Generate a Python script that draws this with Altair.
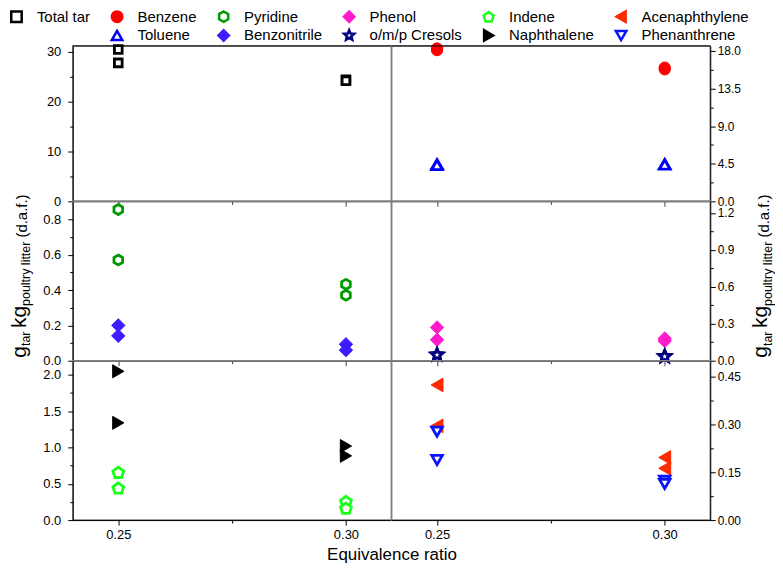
import json
import math
import altair as alt
import pandas as pd

FONT = "Liberation Sans"

# ---------------- data ----------------
ratio = [0.25, 0.25, 0.30, 0.30]

total_tar = [30.5, 27.8, 24.4, 24.2]
benzene = [18.3, 18.1, 16.0, 15.8]
toluene = [4.45, 4.35, 4.45, 4.40]
pyridine = [0.857, 0.571, 0.433, 0.371]
benzonitrile = [0.200, 0.141, 0.093, 0.060]
phenol = [0.270, 0.170, 0.180, 0.160]
cresols = [0.049, 0.047, 0.036, 0.034]
naphthalene = [2.05, 1.34, 1.02, 0.885]
indene = [0.650, 0.435, 0.250, 0.157]
acenaphthylene = [0.423, 0.295, 0.196, 0.162]
phenanthrene = [0.277, 0.188, 0.123, 0.113]

# legend entries, row-major in 6 columns (" " is an empty slot)
legend_order = ["Total tar", "Benzene", "Pyridine", "Phenol", "Indene", "Acenaphthylene",
                " ", "Toluene", "Benzonitrile", "o/m/p Cresols", "Naphthalene", "Phenanthrene"]


# ---------------- styles ----------------
def poly(n, r_in=None):
    k = n * (2 if r_in else 1)
    pts = []
    for i in range(k):
        a = math.radians(-90 + 360.0 * i / k)
        r = 1.0 if (r_in is None or i % 2 == 0) else r_in
        pts.append(f"{r * math.cos(a):.3f},{r * math.sin(a):.3f}")
    return "M" + "L".join(pts) + "Z"


HEX = poly(6)
PENT = poly(5)
STAR = poly(5, 0.45)

shape_range = ["square", "circle", HEX, "diamond", PENT, "triangle-left",
               "circle", "triangle-up", "diamond", STAR, "triangle-right", "triangle-down"]
stroke_range = ["#000000", "#ff0000", "#009a00", "#ff1acc", "#1aff1a", "#ff2a00",
                "transparent", "#0000ff", "#3d1cff", "#000080", "#000000", "#0a14ff"]
fill_range = ["white", "#ff0000", "white", "#ff1acc", "white", "#ff2a00",
              "transparent", "white", "#3d1cff", "white", "#000000", "white"]

mark_style = {
    "Total tar": (60, 2.8), "Benzene": (128, 1), "Toluene": (112, 2.8),
    "Pyridine": (100, 2.8), "Benzonitrile": (180, 1), "Phenol": (180, 1),
    "o/m/p Cresols": (150, 2.8), "Indene": (130, 2.8), "Naphthalene": (170, 1),
    "Acenaphthylene": (190, 1), "Phenanthrene": (112, 2.8),
}

leg = alt.Legend(title=None, orient="none", legendX=-64, legendY=-37, columns=6,
                 direction="horizontal", symbolSize=110, symbolStrokeWidth=2.5,
                 symbolOpacity=1, labelFont=FONT, labelFontSize=15, labelColor="black",
                 labelOffset=13, columnPadding=16, rowPadding=-2, padding=0, labelLimit=0)

shape_scale = alt.Scale(domain=legend_order, range=shape_range)
stroke_scale = alt.Scale(domain=legend_order, range=stroke_range)
fill_scale = alt.Scale(domain=legend_order, range=fill_range)
x_scale = alt.Scale(domain=[0.24, 0.31], nice=False, zero=False)

W = 320


def ticks_cond(minors, major=5, minor=3):
    return {"condition": {"test": f"indexof({json.dumps(minors)}, datum.value) >= 0",
                          "value": minor}, "value": major}


def y_axis(orient, majors, minors, fmt):
    return alt.Axis(orient=orient, values=sorted(majors + minors), format=fmt,
                    labelExpr=f"indexof({json.dumps(minors)}, datum.value) >= 0 ? '' : datum.label",
                    tickSize=ticks_cond(minors, 5, 3), title=None, grid=False,
                    labelFlush=False, labelOverlap=False,
                    labelFontSize=13 if orient == "left" else 12,
                    labelPadding=7 if orient == "left" else 2,
                    domainColor="black", tickColor="black")


x_minor = [0.275]


def x_axis(bottom_row, title=None):
    kw = dict(values=[0.25, 0.275, 0.30], tickSize=ticks_cond(x_minor, 5, 3), grid=False,
              labelFlush=False, labelOverlap=False)
    if bottom_row:
        kw.update(format=".2f", labelPadding=3, domainColor="black", tickColor="black",
                  labelExpr=f"indexof({json.dumps(x_minor)}, datum.value) >= 0 ? '' : datum.label")
    else:
        kw.update(labels=False, domainColor="#404040", tickColor="#404040")
    if title:
        kw.update(title=title, titleX=W, titleY=40, titleAlign="center",
                  titleBaseline="alphabetic")
    else:
        kw.update(title=None)
    return alt.Axis(**kw)


def points(name, vals, ydom, yax, xax):
    size, sw = mark_style[name]
    df = pd.DataFrame({"ratio": ratio, "value": vals, "series": name})
    return alt.Chart(df).mark_point(size=size, strokeWidth=sw, opacity=1).encode(
        x=alt.X("ratio:Q", scale=x_scale, axis=xax),
        y=alt.Y("value:Q", scale=alt.Scale(domain=ydom, nice=False, zero=False), axis=yax),
        shape=alt.Shape("series:N", scale=shape_scale, legend=leg),
        stroke=alt.Stroke("series:N", scale=stroke_scale, legend=leg),
        fill=alt.Fill("series:N", scale=fill_scale, legend=leg),
    )


def top_rule():
    return alt.Chart(pd.DataFrame({"a": [0]})).mark_rule(color="black", strokeWidth=1).encode(
        x=alt.value(0), x2=alt.value(W), y=alt.value(0))


def y_title(bx):
    # g_tar kg_poultry litter (d.a.f.) written bottom-to-top with subscripts
    segs = [("g", 21, bx, 157), ("tar", 12.5, bx + 4.5, 145.3),
            ("kg", 21, bx, 127.2), ("poultry litter", 12.5, bx + 4.5, 105.0),
            ("(d.a.f.)", 15, bx + 1.5, 36.4)]
    out = []
    for txt, fs, x, y in segs:
        out.append(alt.Chart(pd.DataFrame({"t": [txt]})).mark_text(
            angle=270, align="left", baseline="alphabetic", font=FONT, fontSize=fs,
            color="black").encode(x=alt.value(x), y=alt.value(y), text="t:N"))
    return out


def panel(series, ydom, yax, xax, height, extra=()):
    layers = [points(n, v, ydom, yax, xax) for n, v in series]
    return alt.layer(*layers, *extra).properties(width=W, height=height)


xa_up = x_axis(False)

p11 = panel([("Total tar", total_tar)], [0, 31.2],
            y_axis("left", [0, 10, 20, 30], [5, 15, 25], "d"), xa_up, 156, [top_rule()])
p12 = panel([("Benzene", benzene), ("Toluene", toluene)], [0, 18.6],
            y_axis("right", [0, 4.5, 9, 13.5, 18], [2.25, 6.75, 11.25, 15.75], ".1f"),
            xa_up, 156, [top_rule()])
p21 = panel([("Pyridine", pyridine), ("Benzonitrile", benzonitrile)], [0, 0.9035],
            y_axis("left", [0, 0.2, 0.4, 0.6, 0.8], [0.1, 0.3, 0.5, 0.7], ".1f"),
            xa_up, 160, y_title(-47.2))
p22 = panel([("Phenol", phenol), ("o/m/p Cresols", cresols)], [0, 1.294],
            y_axis("right", [0, 0.3, 0.6, 0.9, 1.2], [0.15, 0.45, 0.75, 1.05], ".1f"),
            xa_up, 160, y_title(W + 57))
p31 = panel([("Naphthalene", naphthalene), ("Indene", indene)], [0, 2.196],
            y_axis("left", [0, 0.5, 1.0, 1.5, 2.0], [0.25, 0.75, 1.25, 1.75], ".1f"),
            x_axis(True, "Equivalence ratio"), 160)
p32 = panel([("Acenaphthylene", acenaphthylene), ("Phenanthrene", phenanthrene)], [0, 0.499],
            y_axis("right", [0, 0.15, 0.30, 0.45], [0.075, 0.225, 0.375], ".2f"),
            x_axis(True), 160)

chart = alt.concat(p11, p12, p21, p22, p31, p32, columns=2, spacing=0,
                   bounds="flush").resolve_scale(
    x="independent", y="independent").properties(
    padding={"left": 0, "top": 0, "right": 0, "bottom": 0}
).configure_view(stroke="#7f7f7f", strokeWidth=1.5).configure_axis(
    labelFont=FONT, labelFontSize=13, labelColor="black",
    titleFont=FONT, titleFontSize=17, titleFontWeight="normal", titleColor="black"
)

chart.save("out.html", embed_options={"renderer": "svg", "actions": False})
